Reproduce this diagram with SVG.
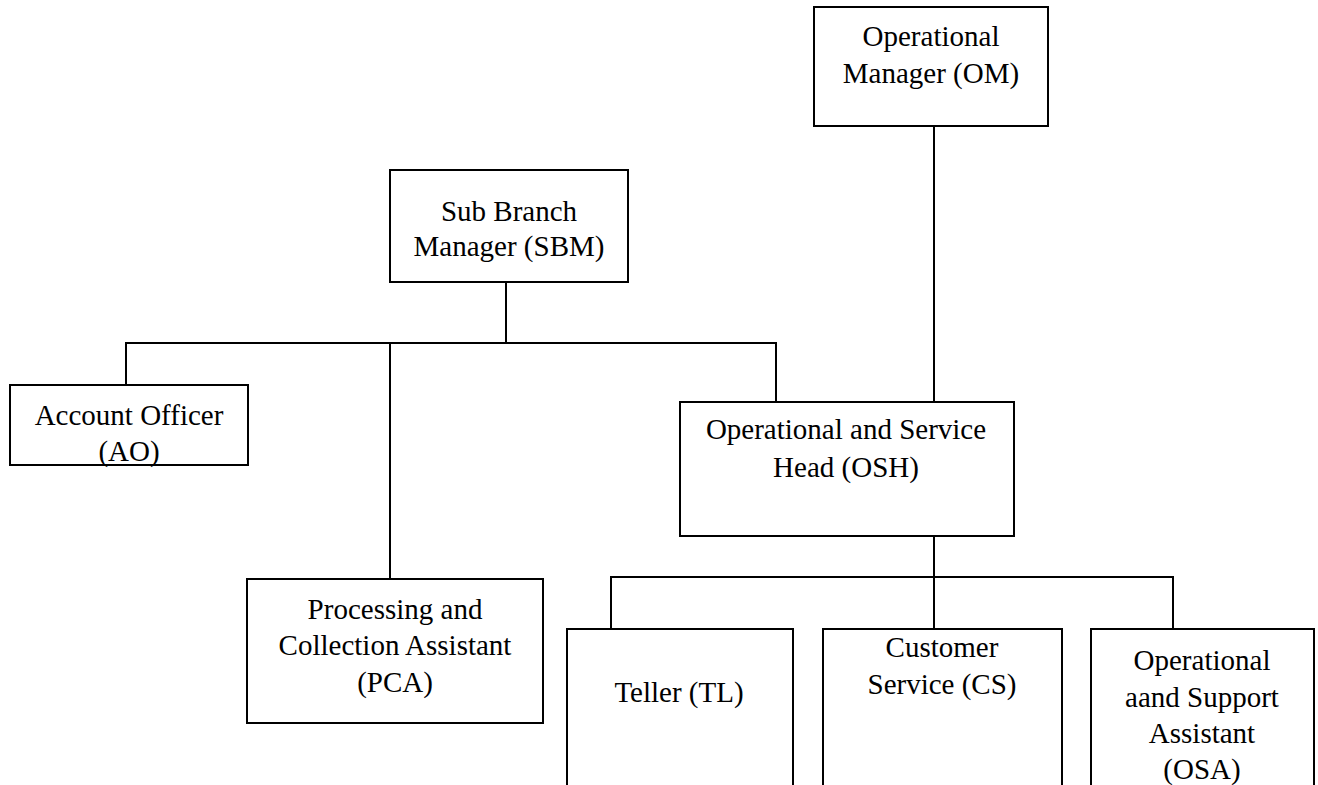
<svg xmlns="http://www.w3.org/2000/svg" width="1318" height="785" viewBox="0 0 1318 785">
<style>
.box{fill:#fff;stroke:#000;stroke-width:2}
.ln{stroke:#000;stroke-width:2;fill:none}
text{font-family:"Liberation Serif","Times New Roman",serif;font-size:29px;fill:#000;text-anchor:middle}
</style>
<rect width="1318" height="785" fill="#fff"/>
<g id="connectors">
<line class="ln" x1="934" y1="126" x2="934" y2="402"/>
<line class="ln" x1="506" y1="282" x2="506" y2="343"/>
<line class="ln" x1="125" y1="343" x2="777" y2="343"/>
<line class="ln" x1="126" y1="343" x2="126" y2="385"/>
<line class="ln" x1="390" y1="343" x2="390" y2="579"/>
<line class="ln" x1="776" y1="343" x2="776" y2="402"/>
<line class="ln" x1="934" y1="536" x2="934" y2="629"/>
<line class="ln" x1="610" y1="577" x2="1174" y2="577"/>
<line class="ln" x1="611" y1="577" x2="611" y2="629"/>
<line class="ln" x1="1173" y1="577" x2="1173" y2="629"/>
</g>
<g id="OM">
<rect class="box" x="814" y="7" width="234" height="119"/>
<text x="931" y="46">Operational</text>
<text x="931" y="83">Manager (OM)</text>
</g>
<g id="SBM">
<rect class="box" x="390" y="170" width="238" height="112"/>
<text x="509" y="221">Sub Branch</text>
<text x="509" y="256">Manager (SBM)</text>
</g>
<g id="AO">
<rect class="box" x="10" y="385" width="238" height="80"/>
<text x="129" y="425">Account Officer</text>
<text x="129" y="461">(AO)</text>
</g>
<g id="OSH">
<rect class="box" x="680" y="402" width="334" height="134"/>
<text x="846" y="439">Operational and Service</text>
<text x="846" y="477">Head (OSH)</text>
</g>
<g id="PCA">
<rect class="box" x="247" y="579" width="296" height="144"/>
<text x="395" y="619">Processing and</text>
<text x="395" y="655">Collection Assistant</text>
<text x="395" y="692">(PCA)</text>
</g>
<g id="TL">
<rect class="box" x="567" y="629" width="226" height="200"/>
<text x="679" y="702">Teller (TL)</text>
</g>
<g id="CS">
<rect class="box" x="823" y="629" width="239" height="200"/>
<text x="942" y="657">Customer</text>
<text x="942" y="694">Service (CS)</text>
</g>
<g id="OSA">
<rect class="box" x="1091" y="629" width="223" height="200"/>
<text x="1202" y="670">Operational</text>
<text x="1202" y="707">aand Support</text>
<text x="1202" y="743">Assistant</text>
<text x="1202" y="779">(OSA)</text>
</g>
</svg>
